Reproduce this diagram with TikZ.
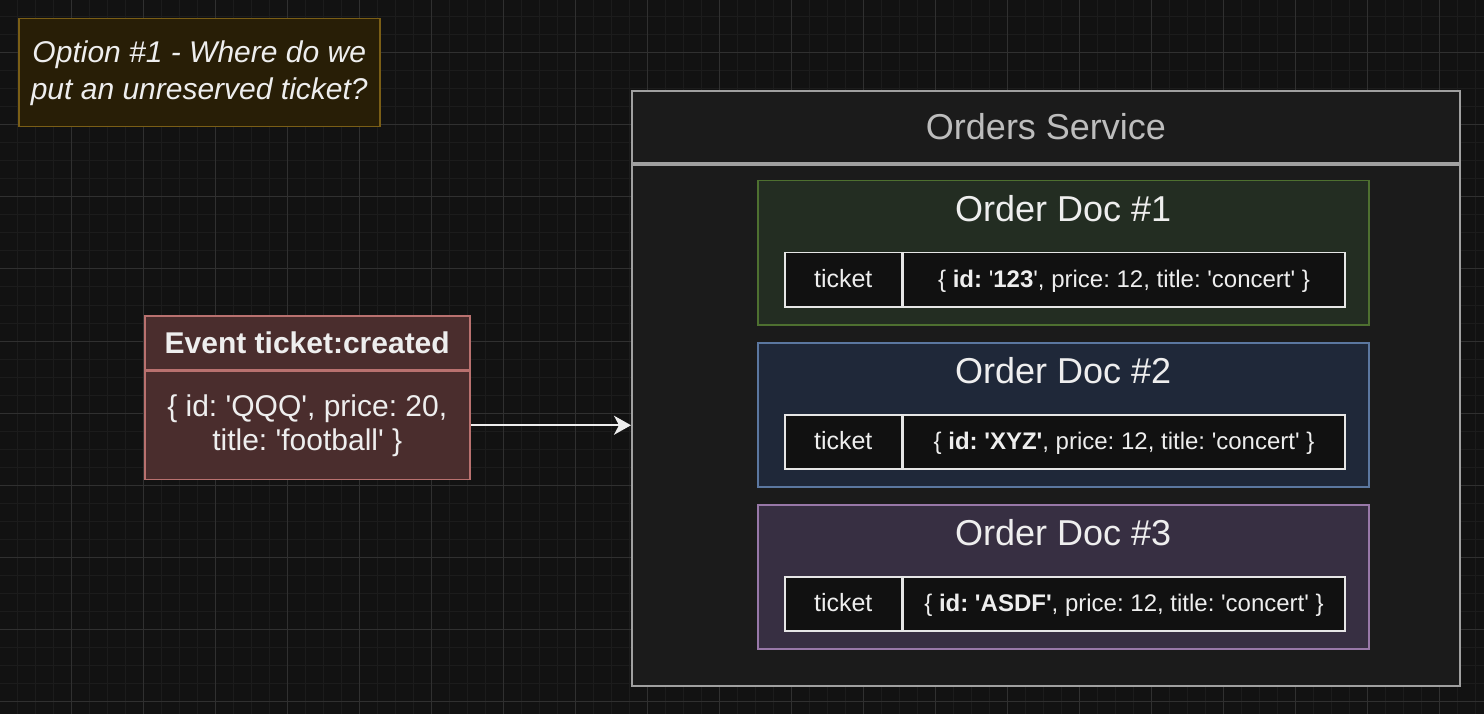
\documentclass[tikz,border=0pt]{standalone}
\usepackage{fontspec}
\setmainfont{Liberation Sans}[Ligatures=TeXOff]
\frenchspacing
\usetikzlibrary{arrows.meta, calc}

\definecolor{bgcol}{HTML}{121212}
\definecolor{gridfine}{HTML}{1C1C1C}
\definecolor{gridmajor}{HTML}{303030}
\definecolor{txtcol}{HTML}{EEEEEE}
\definecolor{notefill}{HTML}{281E06}
\definecolor{notedraw}{HTML}{7A5E16}
\definecolor{evfill}{HTML}{4A2D2D}
\definecolor{evdraw}{HTML}{B9716F}
\definecolor{svcfill}{HTML}{1B1B1B}
\definecolor{svcdraw}{HTML}{A0A0A0}
\definecolor{svctext}{HTML}{BDBDBD}
\definecolor{docAfill}{HTML}{232D22}
\definecolor{docAdraw}{HTML}{4E7030}
\definecolor{docBfill}{HTML}{1F2839}
\definecolor{docBdraw}{HTML}{5B77A0}
\definecolor{docCfill}{HTML}{372F42}
\definecolor{docCdraw}{HTML}{9878A8}
\definecolor{cellfill}{HTML}{111111}
\definecolor{celldraw}{HTML}{E6E6E6}

\begin{document}
\begin{tikzpicture}[x=1pt, y=-1pt, line join=miter,
	box/.style={draw, rectangle, anchor=north west, inner sep=0pt, line width=1.5pt, text=txtcol, align=center},
	notebox/.style={box, fill=notefill, draw=notedraw, font=\fontsize{30}{37}\selectfont\itshape},
	evhead/.style={box, fill=evfill, draw=evdraw, font=\fontsize{30}{35}\selectfont\bfseries},
	evbody/.style={box, fill=evfill, draw=evdraw, font=\fontsize{30}{34}\selectfont},
	svcbox/.style={box, fill=svcfill, draw=svcdraw, line width=2pt, text=svctext, font=\fontsize{36}{40}\selectfont},
	docbox/.style={box, minimum width=611, minimum height=144},
	doctitle/.style={text=txtcol, inner sep=0pt, font=\fontsize{36}{40}\selectfont},
	keycell/.style={box, fill=cellfill, draw=celldraw, minimum width=117, minimum height=54,
		text height=22.5pt, text depth=6.5pt, font=\fontsize{25}{30}\selectfont},
	valcell/.style={keycell, minimum width=441.5, font=\fontsize{24}{29}\selectfont},
	flow/.style={draw=txtcol, line width=2pt, -{Stealth[length=17pt, width=19pt, inset=5pt]}}]

%========================
% canvas + grid
%========================
\fill[bgcol] (0,0) rectangle (1484,714);
\useasboundingbox (0,0) rectangle (1484,714);
\foreach \x in {17,35,...,1475} \draw[gridfine, line width=1pt] (\x,0) -- (\x,714);
\foreach \y in {17,35,...,701} \draw[gridfine, line width=1pt] (0,\y) -- (1484,\y);
\foreach \x in {71,143,...,1439} \draw[gridmajor, line width=1pt] (\x,0) -- (\x,714);
\foreach \y in {53,125,...,701} \draw[gridmajor, line width=1pt] (0,\y) -- (1484,\y);

%========================
% question note
%========================
\node[notebox, minimum width=361, minimum height=108] (option) at (18,18)
	{Option \#1 - Where do we\\put an unreserved ticket?};

%========================
% event
%========================
\node[evhead, minimum width=325, minimum height=54] (evtitle) at (144,315) {Event ticket:created};
\node[evbody, minimum width=325, minimum height=108] (evdata) at (evtitle.south west)
	{\{ id: 'QQQ', price: 20,\\title: 'football' \}};

%========================
% orders service
%========================
\node[svcbox, minimum width=828, minimum height=72] (svctitle) at (631,90) {Orders Service};
\node[svcbox, minimum width=828, minimum height=521] (svcbody) at (svctitle.south west) {};

% order doc #1
\node[docbox, fill=docAfill, draw=docAdraw] (docA) at (757,180) {};
\node[doctitle] (docAtitle) at ($(docA.north)+(0,29)$) {Order Doc \#1};
\node[keycell] (keyA) at ($(docA.north west)+(27,72)$) {ticket};
\node[valcell] (valA) at (keyA.north east)
	{\{ \textbf{id:} '\textbf{123}', price: 12, title: 'concert' \}};

% order doc #2
\node[docbox, fill=docBfill, draw=docBdraw] (docB) at (757,342) {};
\node[doctitle] (docBtitle) at ($(docB.north)+(0,29)$) {Order Doc \#2};
\node[keycell] (keyB) at ($(docB.north west)+(27,72)$) {ticket};
\node[valcell] (valB) at (keyB.north east)
	{\{ \textbf{id: 'XYZ'}, price: 12, title: 'concert' \}};

% order doc #3
\node[docbox, fill=docCfill, draw=docCdraw] (docC) at (757,504) {};
\node[doctitle] (docCtitle) at ($(docC.north)+(0,29)$) {Order Doc \#3};
\node[keycell] (keyC) at ($(docC.north west)+(27,72)$) {ticket};
\node[valcell] (valC) at (keyC.north east)
	{\{ \textbf{id: 'ASDF'}, price: 12, title: 'concert' \}};

% event -> service
\draw[flow] (evdata.east) -- (evdata.east -| svcbody.west);

\end{tikzpicture}
\end{document}
